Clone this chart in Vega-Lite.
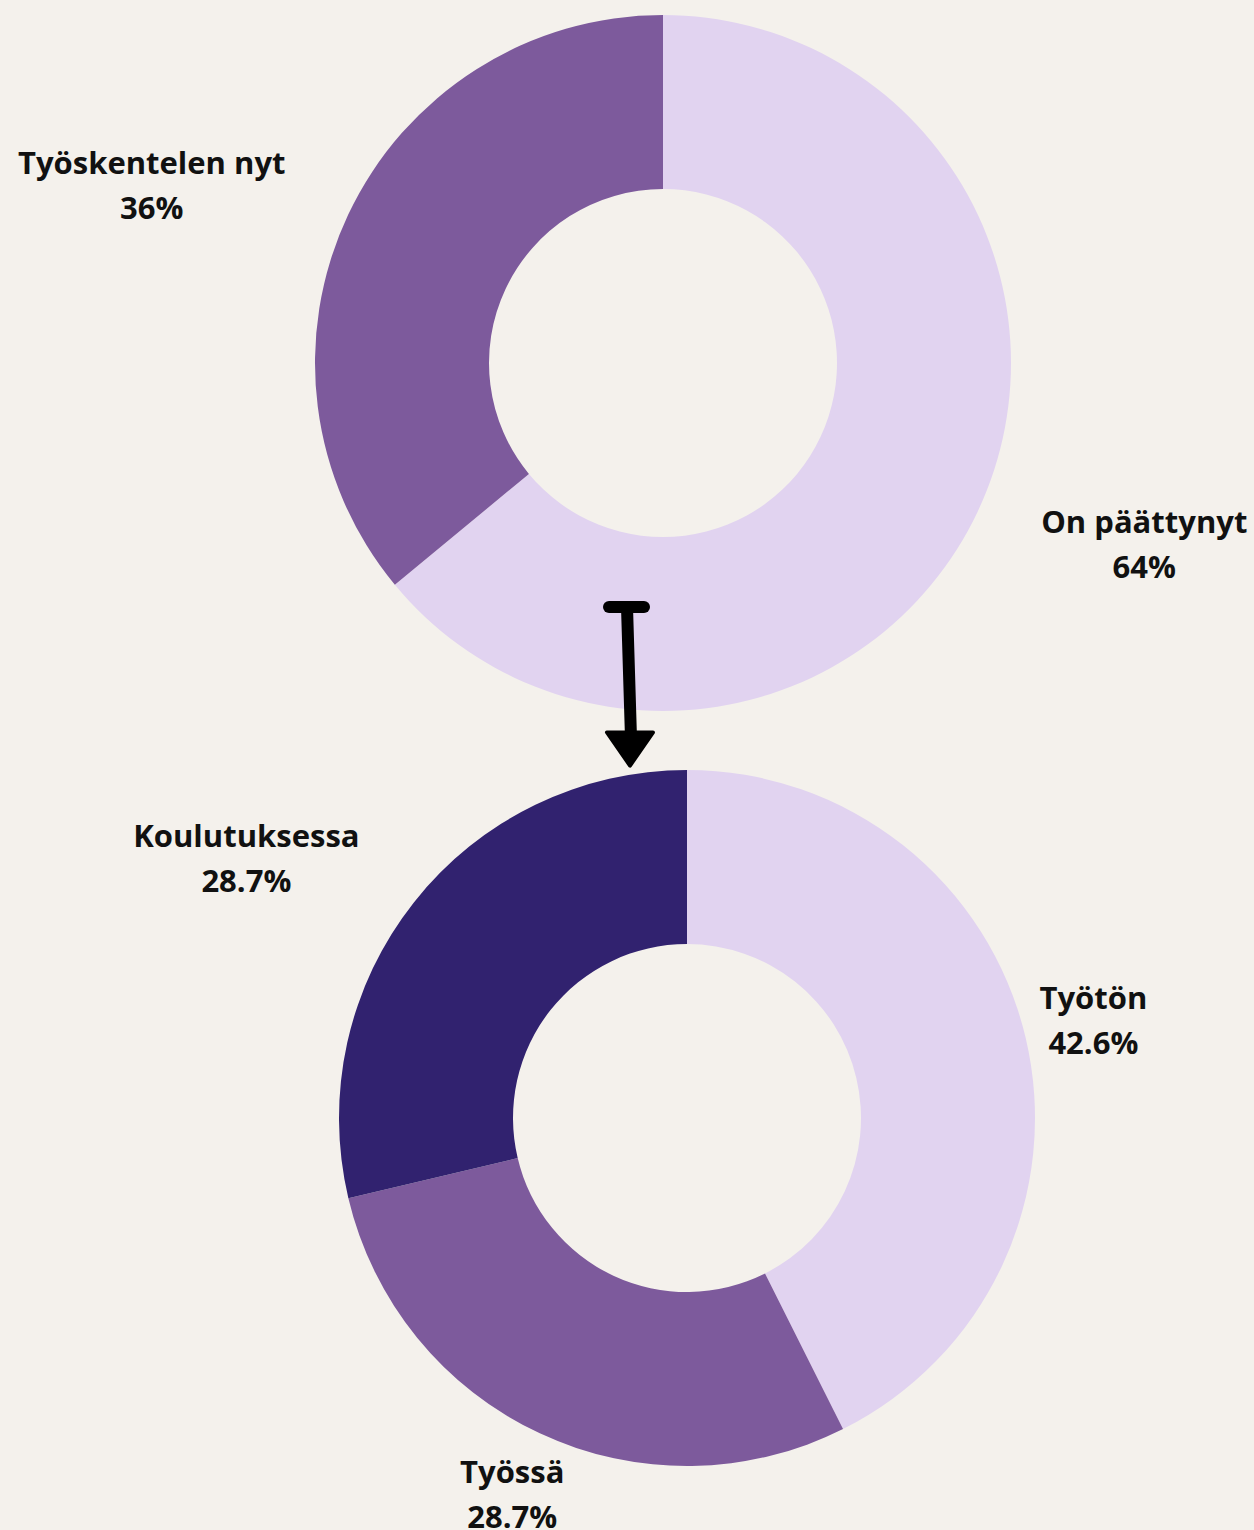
{
  "$schema": "https://vega.github.io/schema/vega-lite/v6.json",
  "background": "#F4F1EC",
  "padding": {"left": 0, "top": 0, "right": 0, "bottom": 20},
  "spacing": 0,
  "bounds": "flush",
  "config": {
    "view": {"stroke": null},
    "text": {"font": "Open Sans", "fontWeight": "bold", "fontSize": 31, "fill": "#111111"}
  },
  "resolve": {"scale": {"color": "independent"}},
  "datasets": {
    "top": [
      {"label": "On päättynyt", "value": 0.64, "rank": 1},
      {"label": "Työskentelen nyt", "value": 0.36, "rank": 2}
    ],
    "bottom": [
      {"label": "Työtön", "value": 0.426, "rank": 1},
      {"label": "Työssä", "value": 0.287, "rank": 2},
      {"label": "Koulutuksessa", "value": 0.287, "rank": 3}
    ],
    "arrow": [
      {"part": "bar", "x": 609, "y": 607, "x2": 644, "y2": 607},
      {"part": "stem", "x": 627, "y": 607, "x2": 631, "y2": 738},
      {"part": "head", "x": 630, "y": 749}
    ]
  },
  "vconcat": [
    {
      "width": 1254,
      "height": 726,
      "layer": [
        {
          "data": {"name": "top"},
          "mark": {"type": "arc", "outerRadius": 348, "innerRadius": 174, "xOffset": 36},
          "encoding": {
            "theta": {"field": "value", "type": "quantitative", "stack": true},
            "order": {"field": "rank", "type": "quantitative", "sort": "ascending"},
            "color": {
              "field": "label", "type": "nominal", "legend": null,
              "scale": {"domain": ["On päättynyt", "Työskentelen nyt"], "range": ["#E1D3F0", "#7D5A9C"]}
            }
          }
        },
        {
          "data": {"name": "top"},
          "mark": {
            "type": "text", "radius": 470, "align": "center", "baseline": "middle",
            "dx": {"expr": "datum.label === 'On päättynyt' ? 92 : -50"},
            "dy": {"expr": "(datum.label === 'On päättynyt' ? -19 : 23) - 20.5"}
          },
          "encoding": {
            "theta": {"field": "value", "type": "quantitative", "stack": true},
            "order": {"field": "rank", "type": "quantitative", "sort": "ascending"},
            "detail": {"field": "label", "type": "nominal"},
            "text": {"field": "label", "type": "nominal"}
          }
        },
        {
          "data": {"name": "top"},
          "mark": {
            "type": "text", "radius": 470, "align": "center", "baseline": "middle",
            "dx": {"expr": "datum.label === 'On päättynyt' ? 92 : -50"},
            "dy": {"expr": "(datum.label === 'On päättynyt' ? -19 : 23) + 24.5"}
          },
          "encoding": {
            "theta": {"field": "value", "type": "quantitative", "stack": true},
            "order": {"field": "rank", "type": "quantitative", "sort": "ascending"},
            "detail": {"field": "label", "type": "nominal"},
            "text": {"field": "value", "type": "quantitative", "format": ".1~%"}
          }
        },
        {
          "data": {"name": "arrow"},
          "transform": [{"filter": "datum.part !== 'head'"}],
          "mark": {"type": "rule", "strokeWidth": 12, "strokeCap": "round", "color": "#000000"},
          "encoding": {
            "x": {"field": "x", "type": "quantitative", "scale": {"domain": [0, 1254], "nice": false, "zero": false}, "axis": null},
            "y": {"field": "y", "type": "quantitative", "scale": {"domain": [0, 726], "nice": false, "zero": false, "reverse": true}, "axis": null},
            "x2": {"field": "x2"},
            "y2": {"field": "y2"}
          }
        },
        {
          "data": {"name": "arrow"},
          "transform": [{"filter": "datum.part === 'head'"}],
          "mark": {
            "type": "point", "shape": "M-1,-0.72L1,-0.72L0,0.72Z", "size": 2116,
            "filled": true, "color": "#000000", "stroke": "#000000", "strokeWidth": 4,
            "strokeJoin": "round", "opacity": 1
          },
          "encoding": {
            "x": {"field": "x", "type": "quantitative"},
            "y": {"field": "y", "type": "quantitative"}
          }
        }
      ]
    },
    {
      "width": 1254,
      "height": 784,
      "layer": [
        {
          "data": {"name": "bottom"},
          "mark": {"type": "arc", "outerRadius": 348, "innerRadius": 174, "xOffset": 60},
          "encoding": {
            "theta": {"field": "value", "type": "quantitative", "stack": true},
            "order": {"field": "rank", "type": "quantitative", "sort": "ascending"},
            "color": {
              "field": "label", "type": "nominal", "legend": null,
              "scale": {"domain": ["Työtön", "Työssä", "Koulutuksessa"], "range": ["#E1D3F0", "#7D5A9C", "#31226F"]}
            }
          }
        },
        {
          "data": {"name": "bottom"},
          "mark": {
            "type": "text", "radius": 470, "align": "center", "baseline": "middle",
            "dx": {"expr": "datum.label === 'Työtön' ? 9 : datum.label === 'Työssä' ? 84 : -12"},
            "dy": {"expr": "(datum.label === 'Työtön' ? 11 : datum.label === 'Työssä' ? -49 : 32) - 20.5"}
          },
          "encoding": {
            "theta": {"field": "value", "type": "quantitative", "stack": true},
            "order": {"field": "rank", "type": "quantitative", "sort": "ascending"},
            "detail": {"field": "label", "type": "nominal"},
            "text": {"field": "label", "type": "nominal"}
          }
        },
        {
          "data": {"name": "bottom"},
          "mark": {
            "type": "text", "radius": 470, "align": "center", "baseline": "middle",
            "dx": {"expr": "datum.label === 'Työtön' ? 9 : datum.label === 'Työssä' ? 84 : -12"},
            "dy": {"expr": "(datum.label === 'Työtön' ? 11 : datum.label === 'Työssä' ? -49 : 32) + 24.5"}
          },
          "encoding": {
            "theta": {"field": "value", "type": "quantitative", "stack": true},
            "order": {"field": "rank", "type": "quantitative", "sort": "ascending"},
            "detail": {"field": "label", "type": "nominal"},
            "text": {"field": "value", "type": "quantitative", "format": ".1~%"}
          }
        }
      ]
    }
  ]
}
